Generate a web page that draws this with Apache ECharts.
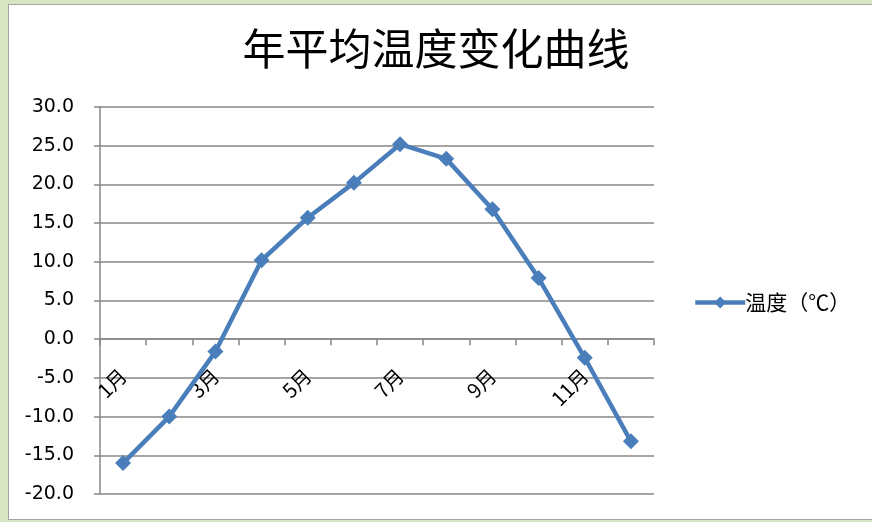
<!DOCTYPE html>
<html>
<head>
<meta charset="utf-8">
<script src="https://cdn.jsdelivr.net/npm/echarts@6/dist/echarts.min.js"></script>
<style>
  html, body { margin: 0; padding: 0; width: 872px; height: 522px; overflow: hidden; background: #d9e6c3; }
  #frame { position: absolute; left: 8px; top: 4px; width: 870px; height: 514px; background: #fff; border: 1px solid #a3a3a3; }
  #chart { position: absolute; left: 0; top: 0; width: 872px; height: 522px; }
</style>
</head>
<body>
<div id="frame"></div>
<div id="chart"></div>
<script>
// Monthly mean temperatures
const months = ['1月', '2月', '3月', '4月', '5月', '6月', '7月', '8月', '9月', '10月', '11月', '12月'];
const temperature = [-16.0, -10.0, -1.6, 10.2, 15.7, 20.2, 25.2, 23.3, 16.8, 7.9, -2.4, -13.2];
const seriesName = '温度（℃）';
const titleText = '年平均温度变化曲线';

const chart = echarts.init(document.getElementById('chart'), null, { renderer: 'canvas' });

const gridTop = 107, gridHeight = 387;
const yMin = -20, yMax = 30;
// month labels sit just under the zero line
const zeroOffset = gridHeight * (0 - yMin) / (yMax - yMin);

chart.setOption({
  backgroundColor: 'transparent',
  animation: false,
  title: {
    text: titleText,
    left: 'center',
    top: 22,
    padding: [5, 0, 5, 12],
    textStyle: { fontFamily: 'Noto Sans CJK SC', fontSize: 43, fontWeight: 'normal', color: '#000' }
  },
  legend: {
    data: [seriesName],
    orient: 'vertical',
    left: 688,
    top: 287,
    itemWidth: 50,
    itemHeight: 15,
    itemGap: 4,
    lineStyle: { width: 4.5, color: '#4a7ebb' },
    textStyle: { fontFamily: 'Noto Sans CJK SC', fontSize: 21, color: '#000', padding: [0, 0, 0, -5] }
  },
  grid: { left: 100, top: gridTop, width: 554, height: gridHeight, containLabel: false, outerBoundsMode: 'none' },
  xAxis: {
    type: 'category',
    data: months,
    boundaryGap: true,
    axisLine: { onZero: true, lineStyle: { color: '#878787', width: 1.5 } },
    axisTick: { show: true, interval: 0, length: 6, lineStyle: { color: '#878787', width: 1.5 } },
    axisLabel: {
      interval: 1,
      rotate: 45,
      margin: 33 - zeroOffset,
      fontFamily: 'Noto Sans CJK SC',
      fontSize: 20,
      color: '#000'
    },
    splitLine: { show: false }
  },
  yAxis: {
    type: 'value',
    min: yMin,
    max: yMax,
    interval: 5,
    axisLine: { show: true, lineStyle: { color: '#878787', width: 1.5 } },
    axisTick: { show: true, length: 6, lineStyle: { color: '#878787', width: 1.5 } },
    axisLabel: {
      margin: 26,
      formatter: v => v.toFixed(1),
      fontFamily: 'DejaVu Sans',
      fontSize: 19,
      color: '#000'
    },
    splitLine: { show: true, lineStyle: { color: '#878787', width: 1.5 } }
  },
  series: [{
    name: seriesName,
    type: 'line',
    data: temperature,
    symbol: 'diamond',
    symbolSize: 16,
    showAllSymbol: true,
    lineStyle: { color: '#4a7ebb', width: 4.5 },
    itemStyle: { color: '#4a7ebb' }
  }]
});
</script>
</body>
</html>
